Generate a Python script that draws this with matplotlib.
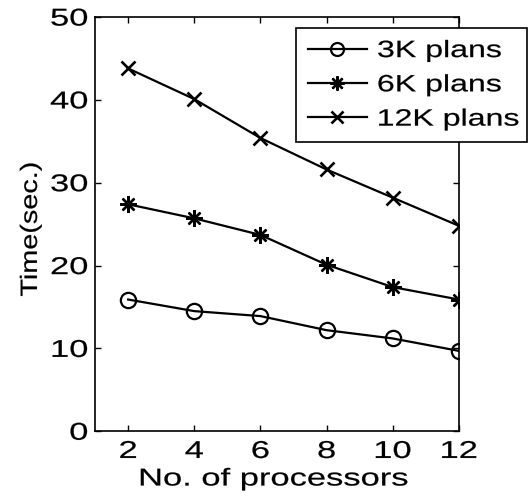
import matplotlib
matplotlib.use("Agg")
import matplotlib.pyplot as plt
import matplotlib.patheffects as pe
from matplotlib.transforms import Affine2D

plt.rcParams['font.family'] = ['Liberation Sans', 'DejaVu Sans']

processors = [2, 4, 6, 8, 10, 12]
time_3k = [15.9, 14.5, 13.9, 12.2, 11.2, 9.7]
time_6k = [27.4, 25.7, 23.7, 20.1, 17.4, 15.9]
time_12k = [43.8, 40.1, 35.4, 31.6, 28.2, 24.8]
labels = ['3K plans', '6K plans', '12K plans']
xticks = [2, 4, 6, 8, 10, 12]
yticks = [0, 10, 20, 30, 40, 50]


class Stretch(pe.AbstractPathEffect):
    """Widen glyphs along the text direction (the reference font is wide)."""

    def __init__(self, sx, anchor='center', lw=0.15):
        super().__init__()
        self.sx = sx
        self.anchor = anchor
        self.lw = lw

    def draw_path(self, renderer, gc, tpath, affine, rgbFace=None):
        ext = tpath.get_extents()
        if self.anchor == 'left':
            cx = ext.x0
        elif self.anchor == 'right':
            cx = ext.x1
        else:
            cx = 0.5 * (ext.x0 + ext.x1)
        a = Affine2D().translate(-cx, 0).scale(self.sx, 1.0).translate(cx, 0) + affine
        gc0 = renderer.new_gc()
        gc0.copy_properties(gc)
        gc0.set_linewidth(self.lw)
        gc0.set_foreground(rgbFace if rgbFace is not None else 'black')
        gc0.set_joinstyle('round')
        renderer.draw_path(gc0, tpath, a, rgbFace)
        gc0.restore()


fig = plt.figure(figsize=(5.28, 5.02), dpi=100)
ax = fig.add_axes([0.180, 0.139, 0.689, 0.825])

ax.plot(processors, time_3k, color='black', lw=1.6, marker='o', ms=11,
        mfc='none', mew=1.6, label=labels[0])
ax.plot(processors, time_6k, color='black', lw=1.6, marker=(8, 2, 0), ms=12,
        mew=1.7, label=labels[1])
ax.plot(processors, time_12k, color='black', lw=1.6, marker='x', ms=9.5,
        mew=1.9, label=labels[2])

ax.set_xlim(1, 12)
ax.set_ylim(0, 50)
ax.set_xticks(xticks)
ax.set_yticks(yticks)
ax.tick_params(direction='in', top=True, right=True, length=4, width=1,
               labelsize=17.5)
ax.tick_params(axis='x', pad=7)
ax.tick_params(axis='y', pad=5)
for s in ax.spines.values():
    s.set_linewidth(1.2)

for t in ax.get_xticklabels():
    t.set_path_effects([Stretch(1.42, 'center')])
for t in ax.get_yticklabels():
    t.set_path_effects([Stretch(1.42, 'right')])

xl = ax.set_xlabel('No. of processors', fontsize=17.5)
xl.set_path_effects([Stretch(1.42, 'center')])
ax.xaxis.set_label_coords(0.49, -0.09)
yl = ax.set_ylabel('Time(sec.)', fontsize=17)
yl.set_path_effects([Stretch(1.22, 'center')])
ax.yaxis.set_label_coords(-0.146, 0.488)

leg = ax.legend(loc='upper left', bbox_to_anchor=(0.552, 0.696, 0.635, 0.277),
                mode='expand', borderaxespad=0, fontsize=17, fancybox=False,
                framealpha=1, edgecolor='black', handlelength=2.5,
                handletextpad=0.45, labelspacing=0.52, borderpad=0.5,
                markerscale=0.85)
leg.get_frame().set_linewidth(1.2)
for t in leg.get_texts():
    t.set_path_effects([Stretch(1.36, 'left')])

fig.savefig('out.png', dpi=100)
